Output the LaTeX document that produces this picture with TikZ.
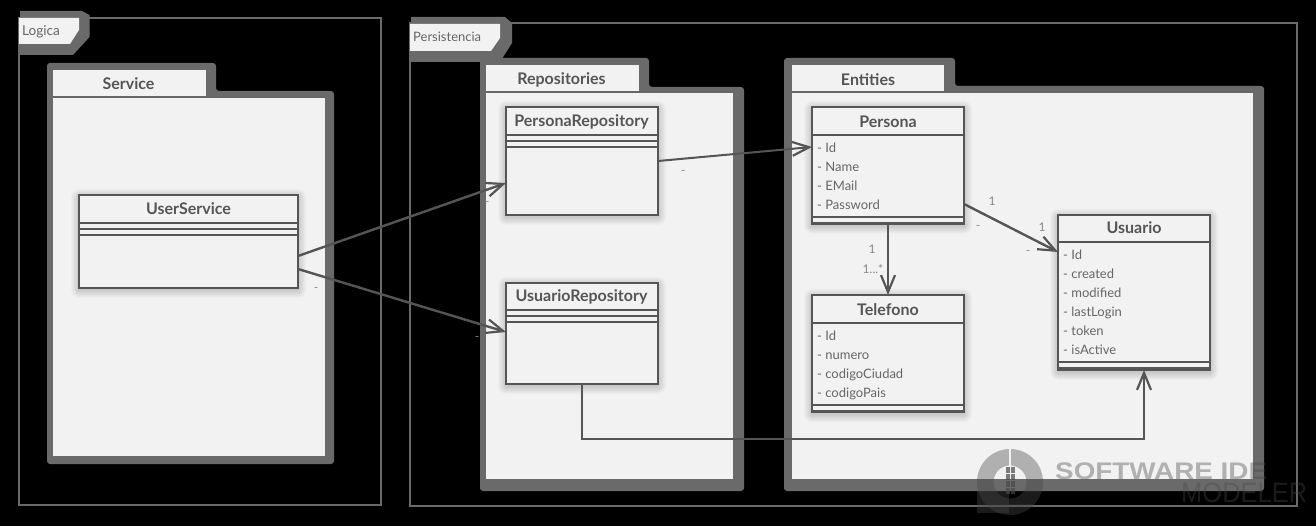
\documentclass[tikz,border=0pt]{standalone}
\usepackage{fontspec}
\setmainfont{Lato}
\newfontfamily\wmfont{Liberation Sans}
\usetikzlibrary{arrows.meta,calc}
\definecolor{pkgdark}{HTML}{6A6A6A}
\definecolor{pkglight}{HTML}{F2F2F2}
\definecolor{ink}{HTML}{555555}
\definecolor{txt}{HTML}{666666}
\definecolor{lbl}{HTML}{8A8A8A}
\definecolor{wmgray}{HTML}{484848}
\tikzset{
  x=1pt,y=-1pt,
  dark/.style={fill=pkgdark,rounded corners=3pt},
  paper/.style={fill=pkglight},
  frameline/.style={draw=pkgdark,line width=2pt},
  sepline/.style={draw=ink,line width=2pt},
  pkgtitle/.style={font=\fontsize{16}{18}\selectfont\bfseries,text=ink,inner sep=0pt},
  tabtitle/.style={font=\fontsize{13}{16}\selectfont,text=txt,inner sep=0pt},
  classbox/.style={draw=ink,line width=2pt,fill=pkglight,inner sep=0pt,outer sep=0pt,anchor=north west},
  ctitle/.style={font=\fontsize{16}{18}\selectfont\bfseries,text=ink,inner sep=0pt},
  attrs/.style={font=\fontsize{13}{19}\selectfont,text=txt,inner sep=0pt,align=left,anchor=north west},
  mult/.style={font=\fontsize{12}{14}\selectfont,text=lbl,inner sep=0pt},
  conn/.style={draw=ink,line width=2.4pt,-{Straight Barb[length=17pt,width=14pt,line width=2.2pt]}},
  conn2/.style={draw=ink,line width=2pt,-{Straight Barb[length=17pt,width=14pt,line width=2.2pt]}},
  wm/.style={fill=wmgray,fill opacity=.39,draw=none},
  wmt/.style={text=wmgray,text opacity=.39,inner sep=0pt,anchor=base west},
}
% package: outer x1 y1, tab right, body top, outer x2 y2; inner l, tabtop, tabright, line, right, bottom
\newcommand{\pkg}[9]{%
  \fill[dark] (#1,#2) -- (#3,#2) -- (#3,#4) -- (#5,#4) -- (#5,#6) -- (#1,#6) -- cycle;
  \pkgb{#8}{#9}}
\newcommand{\pkgb}[2]{\pkgc#1;#2;}
\def\pkgc#1,#2,#3,#4;#5,#6;{%
  \fill[paper] (#1,#2) rectangle (#3,#4);
  \fill[paper] (#1,#4) rectangle (#5,#6);
  \draw[line width=1.4pt,draw=ink!90] (#1,#4) -- (#5,#4);}
% shadow under a class box
\newcommand{\cshadow}[4]{%
  \foreach \r in {1,2,3,4,5,6,7,8}{\fill[black,opacity=.018,rounded corners=\r pt] (#1-\r,#2-\r+2) rectangle (#3+\r,#4+\r+2);}}
\begin{document}
\begin{tikzpicture}
\useasboundingbox (0,0) rectangle (1316,526);
\fill[black] (0,0) rectangle (1316,526);

% Logica frame
\draw[frameline] (19,18) rectangle (381,505);
\fill[pkgdark] (20,11) -- (82,11) -- (89.5,15) -- (89.5,37) -- (73,55) -- (20,55) -- cycle;
\fill[paper] (19,18) -- (79,18) -- (79,30) -- (70,44) -- (19,44) -- cycle;
\node[tabtitle,anchor=west,font=\fontsize{13.6}{16}\selectfont] (logica) at (22,31.5) {Logica};

% Persistencia frame
\draw[frameline] (409.5,23.5) rectangle (1296.5,505.5);
\fill[pkgdark] (411,17) -- (505,17) -- (512,23) -- (512,43) -- (500,62) -- (411,62) -- cycle;
\fill[paper] (410,24) -- (500,24) -- (500,38) -- (491,51) -- (410,51) -- cycle;
\node[tabtitle,anchor=west] (persistencia) at (413,37) {Persistencia};

% Packages
\pkg{47}{63}{216}{91}{334}{464}{0}{53,70,206,97}{324.5,456}
\node[pkgtitle] (service) at (128.5,84) {Service};
\pkg{480}{58}{649}{87}{744}{491}{0}{486,65,639,92}{733,479}
\node[pkgtitle] (repos) at (561.5,80) {Repositories};
\pkg{784}{58}{955}{86}{1264}{491}{0}{792,65,944,92}{1253,479}
\node[pkgtitle] (entities) at (868,79.5) {Entities};

% Classes
\cshadow{79}{195}{298}{288}
\node[classbox,minimum width=219pt,minimum height=93pt] (userservice) at (79,195) {};
\node[ctitle] (userservicet) at (188.5,209) {UserService};
\draw[sepline] (79,223) -- (298,223) (79,229) -- (298,229) (79,235) -- (298,235);

\cshadow{506}{107}{658}{215}
\node[classbox,minimum width=152pt,minimum height=108pt] (personarepo) at (506,107) {};
\node[ctitle] (personarepot) at (581.5,122) {PersonaRepository};
\draw[sepline] (506,135) -- (658,135) (506,141) -- (658,141) (506,147) -- (658,147);

\cshadow{506}{283}{658}{384}
\node[classbox,minimum width=152pt,minimum height=101pt] (usuariorepo) at (506,283) {};
\node[ctitle] (usuariorepot) at (581.5,296.5) {UsuarioRepository};
\draw[sepline] (506,310) -- (658,310) (506,316) -- (658,316) (506,322) -- (658,322);

\cshadow{812}{107}{964}{224}
\node[classbox,minimum width=152pt,minimum height=117pt] (persona) at (812,107) {};
\node[ctitle] (personat) at (888,121.5) {Persona};
\draw[sepline] (812,135) -- (964,135) (812,217) -- (964,217);
\draw[sepline,line width=3pt] (812,223.5) -- (964,223.5);
\node[attrs] (personaa) at (817,142.5) {- Id\\- Name\\- EMail\\- Password};

\cshadow{812}{295}{964}{412}
\node[classbox,minimum width=152pt,minimum height=117pt] (telefono) at (812,295) {};
\node[ctitle] (telefonot) at (888,310) {Telefono};
\draw[sepline] (812,323) -- (964,323) (812,405) -- (964,405);
\draw[sepline,line width=3pt] (812,411.5) -- (964,411.5);
\node[attrs] (telefonoa) at (817,330.5) {- Id\\- numero\\- codigoCiudad\\- codigoPais};

\cshadow{1058}{215}{1210}{370}
\node[classbox,minimum width=152pt,minimum height=155pt] (usuario) at (1058,215) {};
\node[ctitle] (usuariot) at (1134,228) {Usuario};
\draw[sepline] (1058,242) -- (1210,242) (1058,362) -- (1210,362);
\draw[sepline,line width=3.5pt] (1058,369) -- (1210,369);
\node[attrs] (usuarioa) at (1063,249.5) {- Id\\- created\\- modified\\- lastLogin\\- token\\- isActive};

% Connectors
\draw[conn] ([yshift=-14.5pt]userservice.east) -- ([yshift=-22pt]personarepo.west);
\draw[conn] ([yshift=-27.5pt]userservice.east) -- ([yshift=1.5pt]usuariorepo.west);
\draw[conn2] (personarepo.east) -- ([yshift=18.5pt]persona.west);
\draw[conn] (persona.south) -- (telefono.north);
\draw[conn] ([yshift=-38.5pt]persona.east) -- ([yshift=40.5pt]usuario.west);
\draw[conn2] (usuariorepo.south) -- ++(0,55) -| ([xshift=10pt]usuario.south);

% Multiplicities
\node[mult] (m1) at (683,172) {-};
\node[mult] (m2) at (487,203) {-};
\node[mult] (m3) at (316,289) {-};
\node[mult] (m4) at (477,338.5) {-};
\node[mult] (m5) at (978,227.5) {-};
\node[mult] (m6) at (1028,252.5) {-};
\node[mult] (m7) at (992,201) {1};
\node[mult] (m8) at (1042,227) {1};
\node[mult] (m9) at (872,249) {1};
\node[mult] (m10) at (873,269) {1...*};

% Watermark
\fill[wm,even odd rule] (1010,482) circle (33) (1010,482) circle (16.5);
\fill[paper] (1009,448) rectangle (1011,466);
\foreach \c in {0,1} \foreach \q in {0,1,2,3}
  \fill[wm,fill opacity=.7] (1006+\c*5,467+\q*7) rectangle +(4,6);
\fill[wm] (977,491) rectangle (1009,513);
\fill[wm,fill opacity=.2] (1009,504) rectangle (1033,507);
\node[wmt,font=\wmfont\bfseries\fontsize{24}{28}\selectfont] (wm1) at (1055,479) {\scalebox{1.16}[1]{SOFTWARE IDE}};
\node[wmt,font=\wmfont\fontsize{28}{30}\selectfont] (wm2) at (1181,502) {\scalebox{0.91}[1]{MODELER}};
\end{tikzpicture}
\end{document}
